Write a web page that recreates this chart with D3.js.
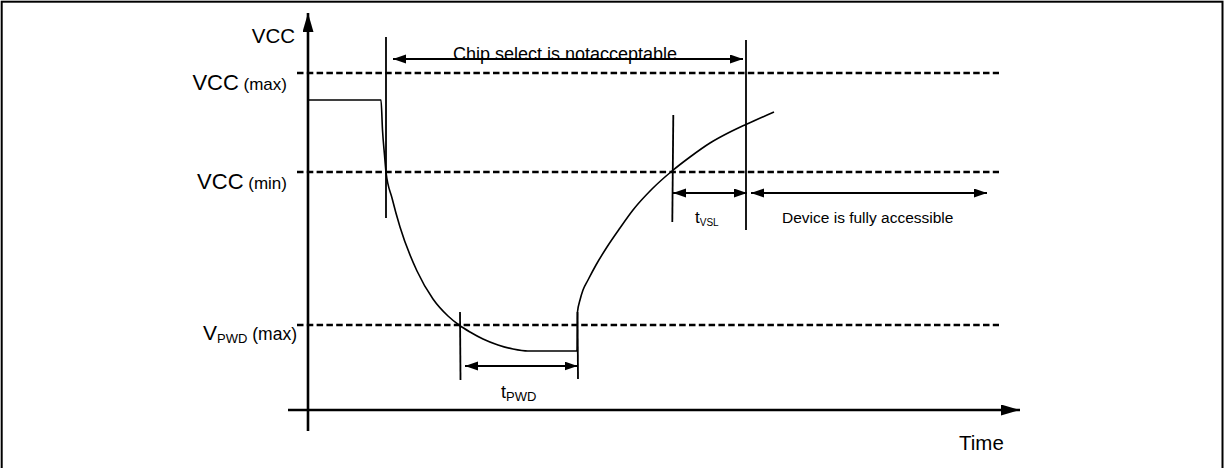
<!DOCTYPE html>
<html>
<head>
<meta charset="utf-8">
<script src="https://cdn.jsdelivr.net/npm/d3@7"></script>
<style>
html,body{margin:0;padding:0;background:#fff;}
svg{display:block;}
text{font-family:"Liberation Sans",Arial,Helvetica,sans-serif;fill:#000;}
</style>
</head>
<body>
<svg id="chart" width="1225" height="468"></svg>
<script>
// ---------- data (time units / voltage units of the schematic) ----------
const levelMain = ["VCC", "VCC", "V"];
const levelSub = ["", "", "PWD"];
const levelTail = ["(max)", "(min)", "(max)"];
const levelValues = [3.37, 2.38, 0.85];

const signalTime = [0, 7.3, 7.45, 7.65, 7.8, 8.4, 9.2, 10.9, 12.5, 14.0, 15.1, 16.2, 17.5, 19.0, 20.5, 22.0, 26.9,
                    26.95, 27.2, 27.5, 28.0, 28.8, 29.9, 31.2, 32.5, 34.4, 36.4, 38.2, 40.2, 42.2, 43.9, 46.6];
const signalVolt = [3.10, 3.10, 2.80, 2.55, 2.38, 2.12, 1.83, 1.39, 1.11, 0.94, 0.85, 0.78, 0.71, 0.65, 0.61, 0.59, 0.59,
                    0.98, 1.10, 1.20, 1.30, 1.45, 1.63, 1.82, 2.00, 2.21, 2.39, 2.53, 2.67, 2.78, 2.86, 2.98];

const markerTimeTop = [7.8, 43.8, 36.53, 15.2, 26.95];
const markerTimeBottom = [7.8, 43.8, 36.43, 15.25, 27.0];
const markerVoltTop = [3.73, 3.70, 2.95, 0.98, 0.98];
const markerVoltBottom = [1.92, 1.80, 1.88, 0.30, 0.31];

const spanStart = [8.5, 36.5, 44.3, 15.7];
const spanEnd = [43.5, 43.9, 67.9, 26.95];
const spanVolt = [3.51, 2.17, 2.17, 0.44];

const axisTimeRange = [-2, 71.2];
const axisVoltRange = [-0.21, 3.97];
const dashTimeRange = [-1.1, 69.1];

// ---------- scales ----------
const x = d3.scaleLinear().domain([0, 1]).range([308, 318]);
const y = d3.scaleLinear().domain([0, 1]).range([410, 310]);

const svg = d3.select("#chart");

// frame
svg.append("rect").attr("x", 1.7).attr("y", 1.7).attr("width", 1220.8).attr("height", 480)
  .attr("fill", "none").attr("stroke", "#000").attr("stroke-width", 2);

const defs = svg.append("defs");
defs.append("marker").attr("id", "ah").attr("markerUnits", "userSpaceOnUse")
  .attr("markerWidth", 14).attr("markerHeight", 10).attr("refX", 13).attr("refY", 4.5)
  .attr("orient", "auto-start-reverse")
  .append("path").attr("d", "M0,0L13,4.5L0,9Z").attr("fill", "#000");
defs.append("marker").attr("id", "axh").attr("markerUnits", "userSpaceOnUse")
  .attr("markerWidth", 20).attr("markerHeight", 12).attr("refX", 19).attr("refY", 5.5)
  .attr("orient", "auto")
  .append("path").attr("d", "M0,0L19,5.5L0,11Z").attr("fill", "#000");

// dashed levels
svg.append("g").selectAll("line").data(levelValues).join("line")
  .attr("x1", x(dashTimeRange[0])).attr("x2", x(dashTimeRange[1]))
  .attr("y1", d => y(d)).attr("y2", d => y(d))
  .attr("stroke", "#000").attr("stroke-width", 2.5).attr("stroke-dasharray", "6.5,3.3");

// axes
svg.append("line").attr("x1", x(axisTimeRange[0])).attr("x2", x(axisTimeRange[1]))
  .attr("y1", y(0)).attr("y2", y(0)).attr("stroke", "#000").attr("stroke-width", 2.6)
  .attr("marker-end", "url(#axh)");
svg.append("line").attr("x1", x(0)).attr("x2", x(0))
  .attr("y1", y(axisVoltRange[0])).attr("y2", y(axisVoltRange[1])).attr("stroke", "#000").attr("stroke-width", 2.6)
  .attr("marker-end", "url(#axh)");

// signal
const sig = signalTime.map((t, i) => [t, signalVolt[i]]);
svg.append("path").datum(sig)
  .attr("d", d3.line().x(d => x(d[0])).y(d => y(d[1])).curve(d3.curveMonotoneX))
  .attr("fill", "none").attr("stroke", "#000").attr("stroke-width", 1.6);

// markers
svg.append("g").selectAll("line").data(markerTimeTop).join("line")
  .attr("x1", (d, i) => x(d)).attr("x2", (d, i) => x(markerTimeBottom[i]))
  .attr("y1", (d, i) => y(markerVoltTop[i])).attr("y2", (d, i) => y(markerVoltBottom[i]))
  .attr("stroke", "#000").attr("stroke-width", 1.8);

// spans
svg.append("g").selectAll("line").data(spanStart).join("line")
  .attr("x1", d => x(d)).attr("x2", (d, i) => x(spanEnd[i]))
  .attr("y1", (d, i) => y(spanVolt[i])).attr("y2", (d, i) => y(spanVolt[i]))
  .attr("stroke", "#000").attr("stroke-width", 2)
  .attr("marker-start", "url(#ah)").attr("marker-end", "url(#ah)");

// level labels
levelValues.forEach((v, i) => {
  const t = svg.append("text").attr("x", i === 2 ? 297 : 287).attr("y", y(v) + 17 - (i === 2 ? 2 : 0))
    .attr("text-anchor", "end");
  if (levelSub[i]) {
    t.append("tspan").attr("font-size", 21).text(levelMain[i]);
    t.append("tspan").attr("font-size", 13).attr("dy", 3).text(levelSub[i]);
    t.append("tspan").attr("font-size", 17.5).attr("dy", -3).text(" " + levelTail[i]);
  } else {
    t.append("tspan").attr("font-size", 22).text(levelMain[i]);
    t.append("tspan").attr("font-size", 17).text(" " + levelTail[i]);
  }
});

// VCC axis label
svg.append("text").attr("x", 295).attr("y", 43).attr("text-anchor", "end").attr("font-size", 20.5).text("VCC");
// Time label
svg.append("text").attr("x", 959).attr("y", 450).attr("font-size", 20.5).text("Time");

// span labels
svg.append("text").attr("x", x((spanStart[0] + spanEnd[0]) / 2) - 3).attr("y", 60).attr("text-anchor", "middle")
  .attr("font-size", 18).text("Chip select is notacceptable");
svg.append("text").attr("x", 782).attr("y", 223).attr("font-size", 15.5).text("Device is fully accessible");

const tv = svg.append("text").attr("x", 695).attr("y", 223);
tv.append("tspan").attr("font-size", 17).text("t");
tv.append("tspan").attr("font-size", 10).attr("dy", 3).text("VSL");

const tp = svg.append("text").attr("x", 501).attr("y", 398);
tp.append("tspan").attr("font-size", 18).text("t");
tp.append("tspan").attr("font-size", 13).attr("dy", 3).text("PWD");
</script>
</body>
</html>
